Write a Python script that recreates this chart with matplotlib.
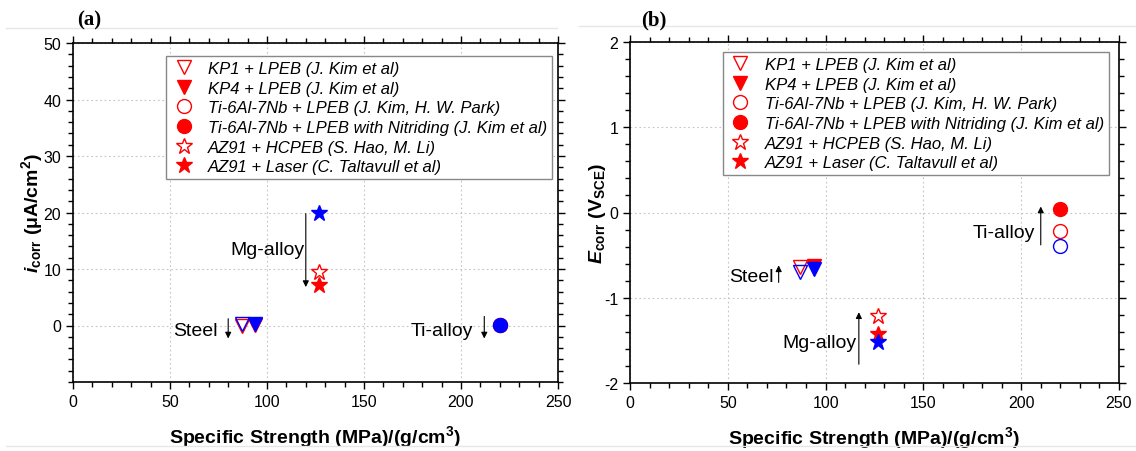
import numpy as np
import matplotlib.pyplot as plt
from matplotlib.ticker import MultipleLocator
from matplotlib.lines import Line2D

plt.rcParams['font.family'] = ['Liberation Sans', 'DejaVu Sans']
plt.rcParams['axes.unicode_minus'] = False
plt.rcParams['mathtext.fontset'] = 'custom'
plt.rcParams['mathtext.rm'] = 'Liberation Sans'
plt.rcParams['mathtext.it'] = 'Liberation Sans:italic'
plt.rcParams['mathtext.bf'] = 'Liberation Sans:bold'
plt.rcParams['mathtext.bfit'] = 'Liberation Sans:italic:bold'

# treated samples (red)
labels = ['KP1 + LPEB (J. Kim et al)',
          'KP4 + LPEB (J. Kim et al)',
          'Ti-6Al-7Nb + LPEB (J. Kim, H. W. Park)',
          'Ti-6Al-7Nb + LPEB with Nitriding (J. Kim et al)',
          'AZ91 + HCPEB (S. Hao, M. Li)',
          'AZ91 + Laser (C. Taltavull et al)']
strength = [87, 94, 220, 220, 127, 127]
icorr_treated = [0.0, 0.05, 0.05, 0.05, 9.5, 7.2]
ecorr_treated = [-0.64, -0.63, -0.22, 0.04, -1.21, -1.43]

# untreated base materials (blue): KP1, KP4, Ti-6Al-7Nb, AZ91
base_strength = [87, 94, 220, 127]
icorr_base = [0.35, 0.35, 0.1, 20.0]
ecorr_base = [-0.70, -0.66, -0.39, -1.52]

# annotations: (label, text x, text y, arrow x, arrow start y, arrow end y)
notes_a = [('Mg-alloy', 100, 13.5, 120, 19.8, 6.8),
           ('Steel', 63, -0.8, 80, 1.2, -2.3),
           ('Ti-alloy', 190, -0.8, 212, 1.6, -2.3)]
notes_b = [('Steel', 62, -0.75, 76, -0.82, -0.62),
           ('Ti-alloy', 191, -0.23, 210, -0.38, 0.07),
           ('Mg-alloy', 97, -1.52, 117, -1.78, -1.17)]

red, blue = '#ff0000', '#0000ff'
markers = ['v', 'v', 'o', 'o', '*', '*']
filled = [False, True, False, True, False, True]
msize = {'v': 10, 'o': 10, '*': 12}

fig = plt.figure(figsize=(11.36, 4.52), dpi=100)
axa = fig.add_axes([73/1136, 69/452, 485/1136, 339/452])
axb = fig.add_axes([630/1136, 68/452, 489/1136, 341/452])


def style_axes(ax):
    ax.set_xlim(0, 250)
    ax.xaxis.set_major_locator(MultipleLocator(50))
    ax.xaxis.set_minor_locator(MultipleLocator(10))
    ax.tick_params(which='both', direction='out', top=True, right=True,
                   labelsize=11.5, width=1.0)
    ax.tick_params(which='major', length=5)
    ax.tick_params(which='minor', length=3.5)
    for s in ax.spines.values():
        s.set_linewidth(1.2)
    ax.grid(True, which='major', color='#c4c4c4', linestyle=(0, (1.5, 2.5)), linewidth=0.8)
    ax.set_axisbelow(True)
    ax.set_xlabel(r'Specific Strength (MPa)/(g/cm$\mathbf{^3}$)', fontsize=14, fontweight='bold')


def draw_points(ax, yt, yb, base_filled):
    handles = []
    for i in range(6):
        m = markers[i]
        h, = ax.plot(strength[i], yt[i], linestyle='none', marker=m, ms=msize[m],
                     mec=red, mfc=red if filled[i] else 'white', mew=1.0,
                     label=labels[i], zorder=3)
        handles.append(h)
    bm = ['v', 'v', 'o', '*']
    for i in range(4):
        ax.plot(base_strength[i], yb[i], linestyle='none', marker=bm[i], ms=msize[bm[i]],
                mec=blue, mfc=blue if base_filled[i] else 'none', mew=1.0, zorder=4)
    return handles


def draw_notes(ax, notes):
    for txt, tx, ty, axx, y0, y1 in notes:
        ax.text(tx, ty, txt, fontsize=14, ha='center', va='center')
        ax.annotate('', xy=(axx, y1), xytext=(axx, y0),
                    arrowprops=dict(arrowstyle='-|>', color='black', lw=0.8,
                                    mutation_scale=9, shrinkA=0, shrinkB=0))


# (a) corrosion current
style_axes(axa)
axa.set_ylim(-10, 50)
axa.set_yticks([0, 10, 20, 30, 40, 50])
axa.yaxis.set_minor_locator(MultipleLocator(2))
axa.set_ylabel(r'$\mathbfit{i}_{\mathbf{corr}}$ $\mathbf{(μA/cm^2)}$', fontsize=14)
ha = draw_points(axa, icorr_treated, icorr_base, [False, True, True, True])
draw_notes(axa, notes_a)

# (b) corrosion potential
style_axes(axb)
axb.set_ylim(-2, 2)
axb.yaxis.set_major_locator(MultipleLocator(1))
axb.yaxis.set_minor_locator(MultipleLocator(0.2))
axb.set_ylabel(r'$\mathbfit{E}_{\mathbf{corr}}$ $\mathbf{(V_{SCE})}$', fontsize=14)
hb = draw_points(axb, ecorr_treated, ecorr_base, [False, True, False, True])
draw_notes(axb, notes_b)

for ax, h, anchor in ((axa, ha, (0.192, 0.962)), (axb, hb, (0.19, 0.971))):
    leg = ax.legend(handles=h, loc='upper left', bbox_to_anchor=anchor, borderaxespad=0,
                    prop={'style': 'italic', 'size': 12}, frameon=True, fancybox=False,
                    edgecolor='#888888', framealpha=1, labelspacing=0.28,
                    borderpad=0.3, handletextpad=0.7, handlelength=1.5)
    leg.get_frame().set_linewidth(1.0)
    ax.xaxis.set_label_coords(0.5, -0.12)
axa.yaxis.set_label_coords(-0.058, 0.5)
axb.yaxis.set_label_coords(-0.045, 0.5)

fig.text(89/1136, 1 - 20/452, '(a)', family='Liberation Serif', fontweight='bold',
         fontsize=15, ha='center', va='center')
fig.text(654/1136, 1 - 20/452, '(b)', family='Liberation Serif', fontweight='bold',
         fontsize=15, ha='center', va='center')

# faint page rules seen in the scan
fig.add_artist(Line2D([0.005, 0.49], [1 - 29/452] * 2, color='#e6e6e6', lw=1))
fig.add_artist(Line2D([0.51, 1.0], [1 - 27/452] * 2, color='#e6e6e6', lw=1))
fig.add_artist(Line2D([0.005, 1.0], [1 - 447/452] * 2, color='#e6e6e6', lw=1))

fig.savefig('out.png', dpi=100)
